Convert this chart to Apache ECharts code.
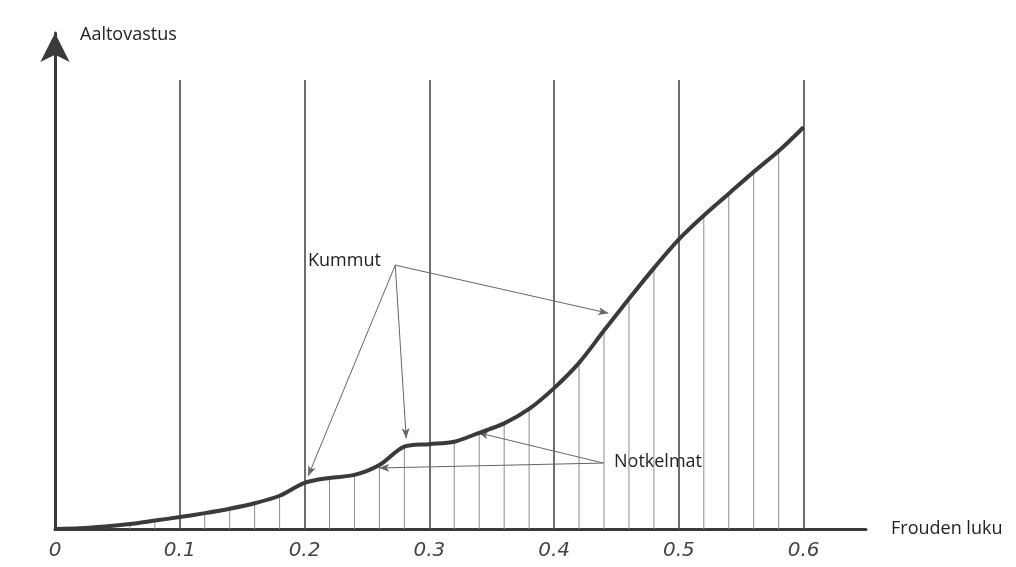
<!DOCTYPE html>
<html>
<head>
<meta charset="utf-8">
<title>Aaltovastus</title>
<script src="https://cdn.jsdelivr.net/npm/echarts@6/dist/echarts.min.js"></script>
<style>
    html, body {margin: 0; padding: 0; background: #fff;}
    #chart {width: 1016px; height: 567px;}
</style>
</head>
<body>
<div id="chart"></div>
<script>
// Froude number steps and wave resistance (arbitrary units)
var froude = [0, 0.02, 0.04, 0.06, 0.08, 0.1, 0.12, 0.14, 0.16, 0.18, 0.2, 0.22, 0.24, 0.26, 0.28, 0.3,
    0.32, 0.34, 0.36, 0.38, 0.4, 0.42, 0.44, 0.46, 0.48, 0.5, 0.52, 0.54, 0.56, 0.58, 0.6];
var resistance = [0, 0.15, 0.5, 1.0, 1.7, 2.4, 3.2, 4.1, 5.2, 6.7, 9.3, 10.3, 10.9, 12.9, 16.6, 17.1,
    17.6, 19.4, 21.3, 24.2, 28.4, 33.5, 40.0, 46.4, 52.6, 58.4, 63.2, 67.6, 72.0, 76.2, 81.0];

var xTicks = [0.1, 0.2, 0.3, 0.4, 0.5, 0.6];
var gridTop = 90.5;

// annotation arrows: [from, to]
var humpFrom = [0.2727, 53.2];
var humpTo = [[0.2029, 10.7], [0.2815, 18.3], [0.4435, 43.5]];
var hollowFrom = [0.4395, 13.3];
var hollowTo = [[0.2598, 12.3], [0.3392, 19.4]];

var myChart = echarts.init(document.getElementById('chart'));

var curve = [];
var hatch = [];
for (var i = 0; i < froude.length; i++) {
    curve.push([froude[i], resistance[i]]);
    var k = Math.round(froude[i] * 100);
    if (k > 0 && k % 10 !== 0) {
        hatch.push([froude[i], resistance[i]]);
    }
}

var marks = [];
xTicks.forEach(function (t) {
    marks.push([
        {coord: [t, 0], symbol: 'none', lineStyle: {color: '#4a4a4a', width: 1.6, type: 'solid'}},
        {coord: [t, gridTop], symbol: 'none'}
    ]);
});
humpTo.forEach(function (p) {
    marks.push([
        {coord: humpFrom, symbol: 'none', lineStyle: {color: '#666', width: 1, type: 'solid'}},
        {coord: p, symbol: 'arrow', symbolSize: [6, 10]}
    ]);
});
hollowTo.forEach(function (p) {
    marks.push([
        {coord: hollowFrom, symbol: 'none', lineStyle: {color: '#666', width: 1, type: 'solid'}},
        {coord: p, symbol: 'arrow', symbolSize: [6, 10]}
    ]);
});

var textFont = '18px "Open Sans"';

var option = {
    animation: false,
    backgroundColor: '#fff',
    grid: {left: 55, right: 150, top: 33, bottom: 38},
    xAxis: {
        type: 'value',
        min: 0,
        max: 0.65,
        interval: 0.1,
        name: 'Frouden luku',
        nameLocation: 'end',
        nameGap: 25,
        nameTextStyle: {fontFamily: 'Open Sans', fontSize: 18, color: '#222', align: 'left', verticalAlign: 'middle'},
        axisLine: {show: true, onZero: false, lineStyle: {color: '#3a3a3a', width: 3}},
        axisTick: {show: false},
        splitLine: {show: false},
        axisLabel: {
            showMaxLabel: false,
            margin: 12,
            fontFamily: 'DejaVu Sans',
            fontStyle: 'italic',
            fontSize: 20,
            color: '#444'
        }
    },
    yAxis: {
        type: 'value',
        min: 0,
        max: 100,
        name: 'Aaltovastus',
        nameLocation: 'end',
        nameGap: -2,
        nameTextStyle: {fontFamily: 'Open Sans', fontSize: 18, color: '#222', align: 'left', verticalAlign: 'middle', padding: [0, 0, 0, 25]},
        axisLine: {show: true, onZero: false, symbol: ['none', 'arrow'], symbolSize: [22, 29], lineStyle: {color: '#3a3a3a', width: 3}},
        axisTick: {show: false},
        axisLabel: {show: false},
        splitLine: {show: false}
    },
    graphic: [
        {type: 'text', x: 308, y: 261, style: {text: 'Kummut', font: textFont, fill: '#222', verticalAlign: 'middle'}},
        {type: 'text', x: 614, y: 462, style: {text: 'Notkelmat', font: textFont, fill: '#222', verticalAlign: 'middle'}}
    ],
    series: [
        {
            type: 'bar',
            data: hatch,
            barWidth: 1,
            itemStyle: {color: '#8c8c8c'},
            silent: true,
            z: 1
        },
        {
            type: 'line',
            data: curve,
            symbol: 'none',
            smooth: 0.3,
            lineStyle: {color: '#3a3a3a', width: 4},
            silent: true,
            z: 5,
            markLine: {
                silent: true,
                animation: false,
                label: {show: false},
                emphasis: {disabled: true},
                data: marks
            }
        }
    ]
};

myChart.setOption(option);
</script>
</body>
</html>
